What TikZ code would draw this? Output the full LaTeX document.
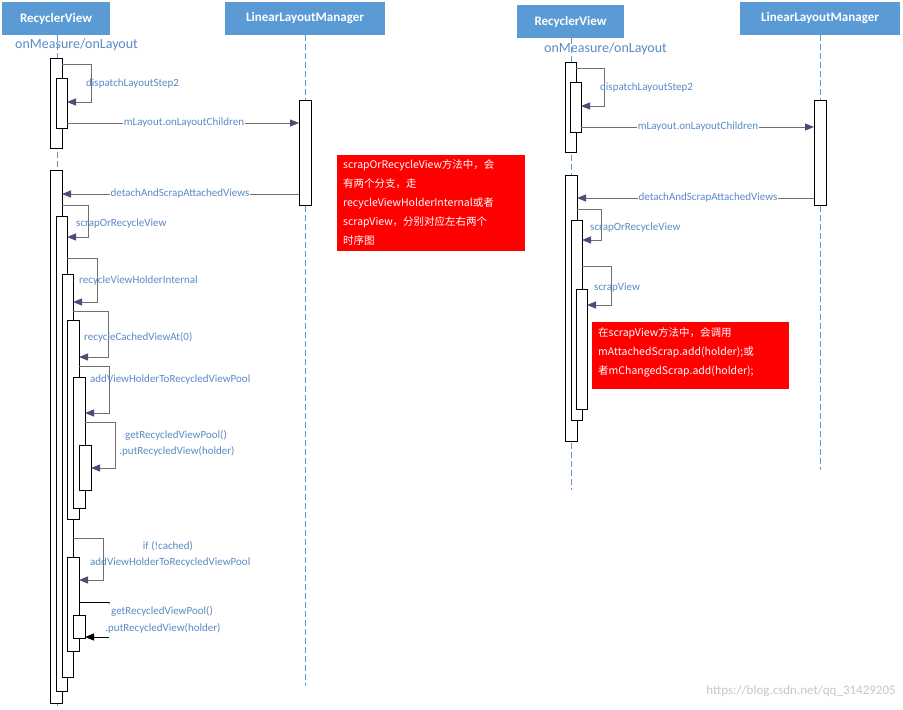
\documentclass[tikz,border=0pt]{standalone}
\usepackage{fontspec}
\setmainfont{Carlito}
\newfontfamily\cjk{Noto Sans CJK SC}
\usetikzlibrary{arrows.meta}
\definecolor{hdr}{HTML}{5B9BD5}
\definecolor{lbl}{HTML}{5A8AC6}
\definecolor{arr}{HTML}{4F4A7A}
\definecolor{ln}{HTML}{707070}
\definecolor{note}{HTML}{FF0000}
\tikzset{
  hdrbox/.style={fill=hdr,draw=none,text=white,font=\fontsize{13}{15}\selectfont\bfseries},
  life/.style={draw=hdr,dash pattern=on 6pt off 3pt,line width=0.8pt},
  actbox/.style={draw=black,fill=white,line width=0.8pt},
  msg/.style={draw=ln,line width=0.9pt,-{Triangle[length=9pt,width=7pt,fill=arr,color=arr]}},
  lab/.style={text=lbl,font=\fontsize{11}{13}\selectfont,inner sep=1pt,fill=white},
  labn/.style={text=lbl,font=\fontsize{11}{13}\selectfont,inner sep=1pt},
  notebox/.style={fill=note,draw=none},
  notetxt/.style={text=white,font=\cjk\fontsize{10.5}{19}\selectfont,align=left,anchor=north west,inner sep=0pt}
}
\begin{document}
\begin{tikzpicture}[x=1pt,y=-1pt]
\useasboundingbox[fill=white] (0,0) rectangle (903,710);
% ---------- left diagram ----------
\draw[life] (57,35) -- (57,706);
\draw[life] (305,35) -- (305,686);
\node[hdrbox,minimum width=108pt,minimum height=33pt] (rv1) at (56,18.5) {RecyclerView};
\node[hdrbox,minimum width=160pt,minimum height=33pt] (llm1) at (305,18.5) {LinearLayoutManager};
\node[text=lbl,font=\fontsize{14}{16}\selectfont,anchor=west,inner sep=0pt] (om1) at (15,45) {onMeasure/onLayout};
% activations
\draw[actbox] (50,58) rectangle (62,148);
\draw[actbox] (56,78) rectangle (67,128);
\draw[actbox] (299,100) rectangle (311,205);
\draw[actbox] (50,170) rectangle (62,703);
\draw[actbox] (56,216) rectangle (67,691);
\draw[actbox] (62,274) rectangle (73,677);
\draw[actbox] (67,320) rectangle (79,519);
\draw[actbox] (73,377) rectangle (85,508);
\draw[actbox] (79,445) rectangle (91,490);
\draw[actbox] (67,557) rectangle (79,651);
\draw[actbox] (73,615) rectangle (85,638);
% messages
\draw[msg] (62,64) -- (91,64) -- (91,102) -- (67,102);
\node[labn,anchor=west] at (85,84) {dispatchLayoutStep2};
\draw[msg] (67,123) -- (299,123);
\node[lab] at (184,123) {mLayout.onLayoutChildren};
\draw[msg] (299,194) -- (62,194);
\node[lab] at (180,194) {detachAndScrapAttachedViews};
\draw[msg] (62,205) -- (88,205) -- (88,237) -- (67,237);
\node[labn,anchor=west] at (75,224) {scrapOrRecycleView};
\draw[msg] (67,258) -- (97,258) -- (97,302) -- (73,302);
\node[labn,anchor=west] at (78,281) {recycleViewHolderInternal};
\draw[msg] (73,311) -- (108,311) -- (108,357) -- (79,357);
\node[labn,anchor=west] at (83,337) {recycleCachedViewAt(0)};
\draw[msg] (79,366) -- (109,366) -- (109,413) -- (85,413);
\node[labn,anchor=west] at (89,380) {addViewHolderToRecycledViewPool};
\draw[msg] (85,422) -- (115,422) -- (115,468) -- (91,468);
\node[labn] at (176,435) {getRecycledViewPool()};
\node[labn] at (177,451) {.putRecycledView(holder)};
\draw[msg] (73,538) -- (103,538) -- (103,580) -- (79,580);
\node[labn] at (168,546) {if (!cached)};
\node[labn,anchor=west] at (89,563) {addViewHolderToRecycledViewPool};
\draw[draw=black,line width=0.9pt,-{Triangle[length=9pt,width=7pt]}] (79,602) -- (109,602) (109,637) -- (85,637);
\draw[draw=ln,line width=0.9pt] (109,602) -- (109,604);
\node[labn] at (162,611) {getRecycledViewPool()};
\node[labn] at (163,628) {.putRecycledView(holder)};
% note 1
\node[notebox,minimum width=188pt,minimum height=96pt,anchor=north west] (n1) at (337,155) {};
\node[notetxt] at (343,159) {scrapOrRecycleView方法中，会\\有两个分支，走\\recycleViewHolderInternal或者\\scrapView，分别对应左右两个\\时序图};
% ---------- right diagram ----------
\draw[life] (571,38) -- (571,490);
\draw[life] (820,35) -- (820,470);
\node[hdrbox,minimum width=107pt,minimum height=33pt] (rv2) at (570.5,21.5) {RecyclerView};
\node[hdrbox,minimum width=160pt,minimum height=33pt] (llm2) at (820,18.5) {LinearLayoutManager};
\node[text=lbl,font=\fontsize{14}{16}\selectfont,anchor=west,inner sep=0pt] (om2) at (544,49) {onMeasure/onLayout};
\draw[actbox] (565,62) rectangle (576,152);
\draw[actbox] (570,82) rectangle (581,132);
\draw[actbox] (814,100) rectangle (826,205);
\draw[actbox] (565,175) rectangle (577,441);
\draw[actbox] (571,220) rectangle (582,420);
\draw[actbox] (576,289) rectangle (587,409);
\draw[msg] (576,68) -- (604,68) -- (604,106) -- (581,106);
\node[labn,anchor=west] at (599,88) {dispatchLayoutStep2};
\draw[msg] (581,127) -- (814,127);
\node[lab] at (698,127) {mLayout.onLayoutChildren};
\draw[msg] (814,198) -- (577,198);
\node[lab] at (708,198) {detachAndScrapAttachedViews};
\draw[msg] (577,209) -- (601,209) -- (601,240) -- (582,240);
\node[labn,anchor=west] at (589,228) {scrapOrRecycleView};
\draw[msg] (582,266) -- (611,266) -- (611,305) -- (587,305);
\node[labn,anchor=west] at (593,288) {scrapView};
\node[notebox,minimum width=197pt,minimum height=67pt,anchor=north west] (n2) at (592,322) {};
\node[notetxt] at (598,327) {在scrapView方法中，会调用\\mAttachedScrap.add(holder);或\\者mChangedScrap.add(holder);};
% watermark
\node[text=black!22,font=\fontsize{13}{15}\selectfont,anchor=east,inner sep=0pt] (wm) at (896,691) {https://blog.csdn.net/qq\_31429205};
\end{tikzpicture}
\end{document}
